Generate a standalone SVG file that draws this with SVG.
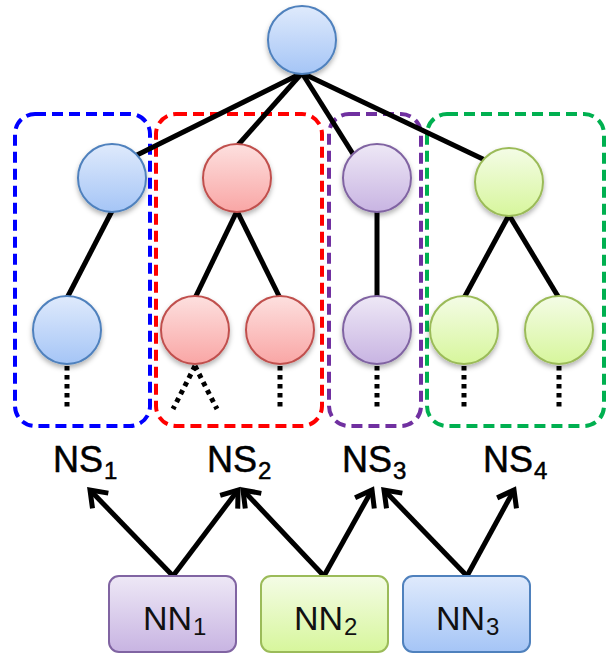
<svg xmlns="http://www.w3.org/2000/svg" width="615" height="657" viewBox="0 0 615 657">
<defs>
<linearGradient id="gBlue" x1="0" y1="0" x2="0" y2="1"><stop offset="0" stop-color="#dfeafc"/><stop offset="1" stop-color="#a5c5f6"/></linearGradient>
<linearGradient id="gRed" x1="0" y1="0" x2="0" y2="1"><stop offset="0" stop-color="#fde0df"/><stop offset="1" stop-color="#f9a6a5"/></linearGradient>
<linearGradient id="gPurple" x1="0" y1="0" x2="0" y2="1"><stop offset="0" stop-color="#eee8f6"/><stop offset="1" stop-color="#c8b4e2"/></linearGradient>
<linearGradient id="gGreen" x1="0" y1="0" x2="0" y2="1"><stop offset="0" stop-color="#f4fce6"/><stop offset="1" stop-color="#d7f69c"/></linearGradient>
<filter id="sh" x="-30%" y="-30%" width="160%" height="170%"><feDropShadow dx="0" dy="3" stdDeviation="2.5" flood-color="#000" flood-opacity="0.3"/></filter>
<marker id="arr" markerUnits="userSpaceOnUse" markerWidth="30" markerHeight="30" refX="0" refY="0" viewBox="-20 -15 30 30" orient="auto" overflow="visible">
<path d="M-15,-11 L0,0 L-15,11" fill="none" stroke="#000" stroke-width="5" stroke-linejoin="miter"/>
</marker>
</defs>
<style>
.edge{stroke:#000;stroke-width:5;fill:none;stroke-linecap:butt}
.dot{stroke:#000;stroke-width:5;fill:none;stroke-dasharray:4.5 4.5}
.grp{fill:none;stroke-width:4;stroke-dasharray:11 6}
.arrow{stroke:#000;stroke-width:5;fill:none;marker-end:url(#arr)}
.nb{stroke:#4f81bd;stroke-width:2;fill:url(#gBlue);filter:url(#sh)}
.nr{stroke:#c0504d;stroke-width:2;fill:url(#gRed);filter:url(#sh)}
.np{stroke:#8064a2;stroke-width:2;fill:url(#gPurple);filter:url(#sh)}
.ng{stroke:#9bbb59;stroke-width:2;fill:url(#gGreen);filter:url(#sh)}
.lbl{font-family:"Liberation Sans",Arial,sans-serif;font-size:36px;fill:#000;stroke:#000;stroke-width:0.5}
.nnl{font-family:"Liberation Sans",Arial,sans-serif;font-size:34px;fill:#111}
.sub{font-size:24px}
</style>

<g id="groups">
<rect id="NS1-box" class="grp" x="15" y="114" width="135" height="312" rx="20" stroke="#0000ff"/>
<rect id="NS2-box" class="grp" x="156" y="114" width="166" height="312" rx="20" stroke="#ff0000"/>
<rect id="NS3-box" class="grp" x="329" y="114" width="92" height="312" rx="20" stroke="#7030a0"/>
<rect id="NS4-box" class="grp" x="427" y="114" width="177" height="312" rx="20" stroke="#00b050"/>
</g>

<g id="connectors">
<line class="edge" x1="302" y1="73" x2="135" y2="156"/>
<line class="edge" x1="302" y1="73" x2="238" y2="145"/>
<line class="edge" x1="302" y1="73" x2="353" y2="154"/>
<line class="edge" x1="302" y1="73" x2="487" y2="161"/>
<line class="edge" x1="112" y1="211" x2="67" y2="298"/>
<line class="edge" x1="237" y1="211" x2="195" y2="298"/>
<line class="edge" x1="237" y1="211" x2="280" y2="298"/>
<line class="edge" x1="377" y1="211" x2="377" y2="298"/>
<line class="edge" x1="509" y1="215" x2="464" y2="298"/>
<line class="edge" x1="509" y1="215" x2="559" y2="298"/>
<line class="dot" x1="67" y1="366" x2="67" y2="409"/>
<line class="dot" x1="195" y1="366" x2="173" y2="409"/>
<line class="dot" x1="195" y1="366" x2="217" y2="409"/>
<line class="dot" x1="280" y1="366" x2="280" y2="409"/>
<line class="dot" x1="377" y1="366" x2="377" y2="409"/>
<line class="dot" x1="464" y1="366" x2="464" y2="409"/>
<line class="dot" x1="559" y1="366" x2="559" y2="409"/>
<line class="arrow" x1="173" y1="576" x2="90" y2="490"/>
<line class="arrow" x1="173" y1="576" x2="238" y2="490"/>
<line class="arrow" x1="324" y1="576" x2="243" y2="490"/>
<line class="arrow" x1="324" y1="576" x2="372" y2="490"/>
<line class="arrow" x1="467" y1="576" x2="384" y2="490"/>
<line class="arrow" x1="467" y1="576" x2="514" y2="490"/>
</g>

<g id="root"><circle class="nb" cx="302" cy="40" r="34"/></g>
<g id="ns1-a"><circle class="nb" cx="112" cy="178" r="34"/></g>
<g id="ns2-a"><circle class="nr" cx="237" cy="178" r="34"/></g>
<g id="ns3-a"><circle class="np" cx="377" cy="178" r="34"/></g>
<g id="ns4-a"><circle class="ng" cx="509" cy="182" r="34"/></g>
<g id="ns1-b"><circle class="nb" cx="67" cy="330" r="34"/></g>
<g id="ns2-b"><circle class="nr" cx="195" cy="330" r="34"/></g>
<g id="ns2-c"><circle class="nr" cx="280" cy="330" r="34"/></g>
<g id="ns3-b"><circle class="np" cx="377" cy="330" r="34"/></g>
<g id="ns4-b"><circle class="ng" cx="464" cy="330" r="34"/></g>
<g id="ns4-c"><circle class="ng" cx="559" cy="330" r="34"/></g>

<g id="NS1"><text class="lbl" x="53" y="472">NS<tspan class="sub" dx="1" dy="7">1</tspan></text></g>
<g id="NS2"><text class="lbl" x="207" y="472">NS<tspan class="sub" dx="1" dy="7">2</tspan></text></g>
<g id="NS3"><text class="lbl" x="342" y="472">NS<tspan class="sub" dx="1" dy="7">3</tspan></text></g>
<g id="NS4"><text class="lbl" x="483" y="472">NS<tspan class="sub" dx="1" dy="7">4</tspan></text></g>

<g id="NN1"><rect x="109" y="576" width="127" height="76" rx="10" fill="url(#gPurple)" stroke="#8064a2" stroke-width="2"/><text class="nnl" x="143" y="630">NN<tspan class="sub" dx="1" dy="5">1</tspan></text></g>
<g id="NN2"><rect x="261" y="576" width="127" height="76" rx="10" fill="url(#gGreen)" stroke="#9bbb59" stroke-width="2"/><text class="nnl" x="294" y="630">NN<tspan class="sub" dx="1" dy="5">2</tspan></text></g>
<g id="NN3"><rect x="403" y="576" width="127" height="76" rx="10" fill="url(#gBlue)" stroke="#4f81bd" stroke-width="2"/><text class="nnl" x="436" y="630">NN<tspan class="sub" dx="1" dy="5">3</tspan></text></g>
</svg>
